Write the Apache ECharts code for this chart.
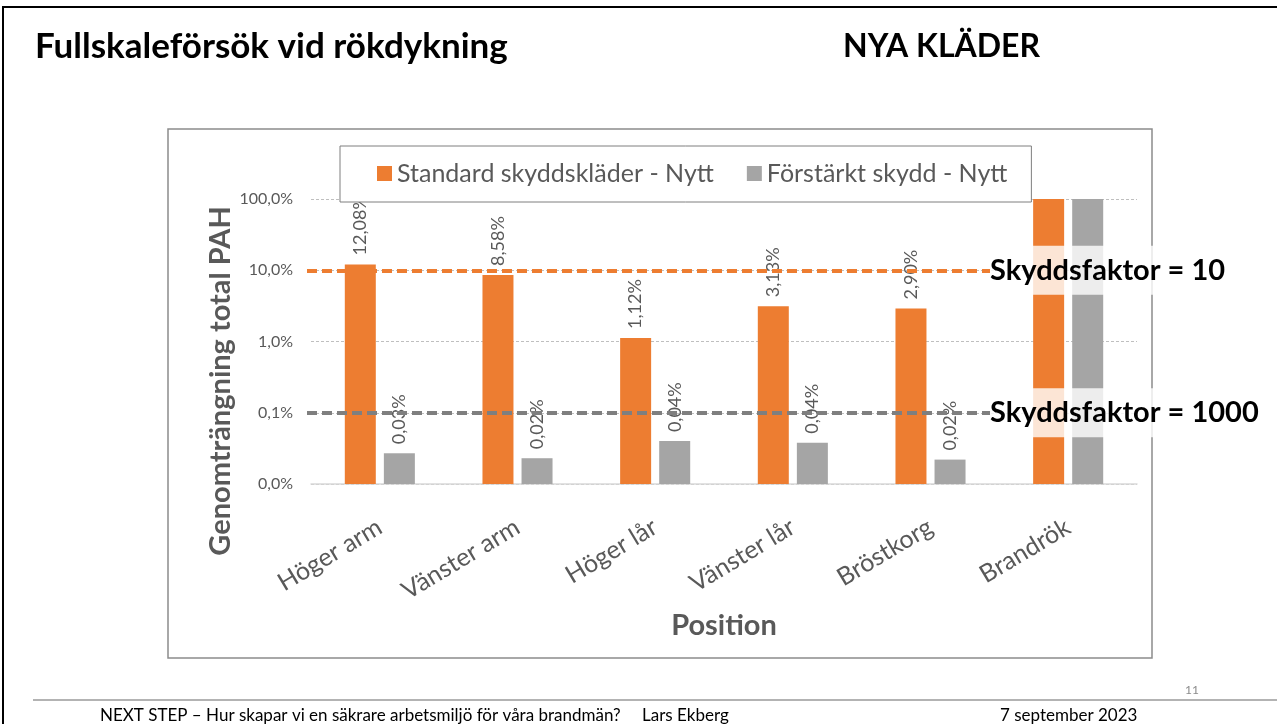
<!DOCTYPE html>
<html><head><meta charset="utf-8">
<script src="https://cdn.jsdelivr.net/npm/echarts@6/dist/echarts.min.js"></script>
<style>html,body{margin:0;padding:0;background:#fff;}#c{width:1277px;height:724px;}</style>
</head><body><div id="c"></div>
<script>
// ---- data ----
const categories = ['Höger arm', 'Vänster arm', 'Höger lår', 'Vänster lår', 'Bröstkorg', 'Brandrök'];
const seriesNames = ['Standard skyddskläder - Nytt', 'Förstärkt skydd - Nytt'];
const standardValues = [12.08, 8.58, 1.12, 3.13, 2.90, 100];
const forstarktValues = [0.027, 0.023, 0.040, 0.038, 0.022, 100];
const labelledCount = 5; // Brandrök bars carry no value label
const refLineValues = [10, 0.1];
const refLineTexts = ['Skyddsfaktor = 10', 'Skyddsfaktor = 1000'];
const yMin = 0.01, yMax = 100;

const ORANGE = '#ED7D31', GRAY = '#A5A5A5', TXT = '#595959', FONT = 'Lato';
const fmtPct = (v, d) => v.toFixed(d).replace('.', ',') + '%';

const chart = echarts.init(document.getElementById('c'), null, {renderer: 'canvas'});

function barLabel() {
  return {
    show: true, position: 'top', rotate: 90, align: 'left', verticalAlign: 'middle',
    distance: 9, fontSize: 18, color: TXT, fontFamily: FONT,
    formatter: p => p.dataIndex < labelledCount ? fmtPct(p.value, 2) : ''
  };
}

const option = {
  backgroundColor: '#fff',
  animation: false,
  grid: {left: 311, right: 140, top: 199, bottom: 240, containLabel: false},
  legend: {
    left: 340, top: 146, orient: 'horizontal', icon: 'rect',
    itemWidth: 15, itemHeight: 15, itemGap: 33,
    padding: [15, 24, 16, 37],
    borderColor: '#7f7f7f', borderWidth: 1, backgroundColor: '#fff',
    textStyle: {fontSize: 25, color: TXT, fontFamily: FONT},
    data: seriesNames
  },
  xAxis: {
    type: 'category', data: categories,
    axisTick: {show: false},
    axisLine: {onZero: false, lineStyle: {color: '#d9d9d9', width: 1.5}},
    axisLabel: {rotate: 31, interval: 0, fontSize: 25, color: TXT, fontFamily: FONT, margin: 41},
    name: 'Position', nameLocation: 'middle', nameGap: 127,
    nameTextStyle: {fontSize: 29, fontWeight: 'bold', color: TXT, fontFamily: FONT}
  },
  yAxis: {
    type: 'log', logBase: 10, min: yMin, max: yMax, startValue: yMin,
    axisLine: {show: false}, axisTick: {show: false},
    axisLabel: {fontSize: 16, color: TXT, fontFamily: FONT, margin: 18, formatter: v => fmtPct(v, 1)},
    splitLine: {show: true, lineStyle: {color: '#bfbfbf', width: 1, type: [3, 2]}}
  },
  series: [
    {name: seriesNames[0], type: 'bar', data: standardValues, barWidth: 31, barGap: '26%',
     itemStyle: {color: ORANGE}, label: barLabel(), z: 2},
    {name: seriesNames[1], type: 'bar', data: forstarktValues, barWidth: 31, barGap: '26%',
     itemStyle: {color: GRAY}, label: barLabel(), z: 2}
  ],
  graphic: [
    // slide border
    {type: 'line', shape: {x1: 2, y1: 7, x2: 1277, y2: 7}, style: {stroke: '#000', lineWidth: 2}, z: 0},
    {type: 'line', shape: {x1: 3, y1: 7, x2: 3, y2: 724}, style: {stroke: '#000', lineWidth: 2}, z: 0},
    // chart frame
    {type: 'rect', shape: {x: 168, y: 129, width: 984, height: 529}, style: {fill: 'none', stroke: '#8c8c8c', lineWidth: 1.5}, z: 0},
    // titles
    {type: 'text', x: 35, y: 47, style: {text: 'Fullskaleförsök vid rökdykning', font: 'bold 35px Lato', fill: '#000', textVerticalAlign: 'middle'}, z: 10},
    {type: 'text', x: 843, y: 47, style: {text: 'NYA KLÄDER', font: 'bold 32px Lato', fill: '#000', textVerticalAlign: 'middle'}, z: 10},
    // y axis name
    {type: 'text', x: 221, y: 381, rotation: Math.PI / 2,
     style: {text: 'Genomträngning total PAH', font: 'bold 29px Lato', fill: TXT, textAlign: 'center', textVerticalAlign: 'middle'}, z: 10},
    // footer
    {type: 'line', shape: {x1: 33, y1: 700, x2: 1277, y2: 700}, style: {stroke: '#9a9a9a', lineWidth: 1.5}, z: 0},
    {type: 'text', x: 1185, y: 690, style: {text: '11', font: '12px Lato', fill: '#8c8c8c', textVerticalAlign: 'middle'}, z: 10},
    {type: 'text', x: 100, y: 716, style: {text: 'NEXT STEP – Hur skapar vi en säkrare arbetsmiljö för våra brandmän?', font: '17px Lato', fill: '#000', textVerticalAlign: 'middle'}, z: 10},
    {type: 'text', x: 642, y: 716, style: {text: 'Lars Ekberg', font: '17px Lato', fill: '#000', textVerticalAlign: 'middle'}, z: 10},
    {type: 'text', x: 1000, y: 716, style: {text: '7 september 2023', font: '17px Lato', fill: '#000', textVerticalAlign: 'middle'}, z: 10}
  ]
};
chart.setOption(option);

// Reference lines: span from the left of the plot up to just before the Brandrök bars
const x0 = chart.convertToPixel({xAxisIndex: 0}, categories[0]);
const x1 = chart.convertToPixel({xAxisIndex: 0}, categories[1]);
const band = x1 - x0;
const xStart = x0 - band / 2 - 4;
const xEnd = chart.convertToPixel({xAxisIndex: 0}, categories[5]) - band * 0.567;

function refLine(i, color) {
  return {
    silent: true, symbol: ['none', 'none'], z: 5,
    lineStyle: {color: color, width: 4, type: [10, 5]},
    label: {
      show: true, position: 'end', distance: 0,
      formatter: refLineTexts[i], color: '#000', fontSize: 29, fontWeight: 'bold', fontFamily: FONT,
      backgroundColor: 'rgba(255,255,255,0.8)', padding: [10, 6, 10, 0], lineHeight: 29
    },
    data: [[{x: xStart, yAxis: refLineValues[i]}, {x: xEnd, yAxis: refLineValues[i]}]]
  };
}
chart.setOption({series: [{markLine: refLine(0, ORANGE)}, {markLine: refLine(1, '#7f7f7f')}]});
</script>
</body></html>
